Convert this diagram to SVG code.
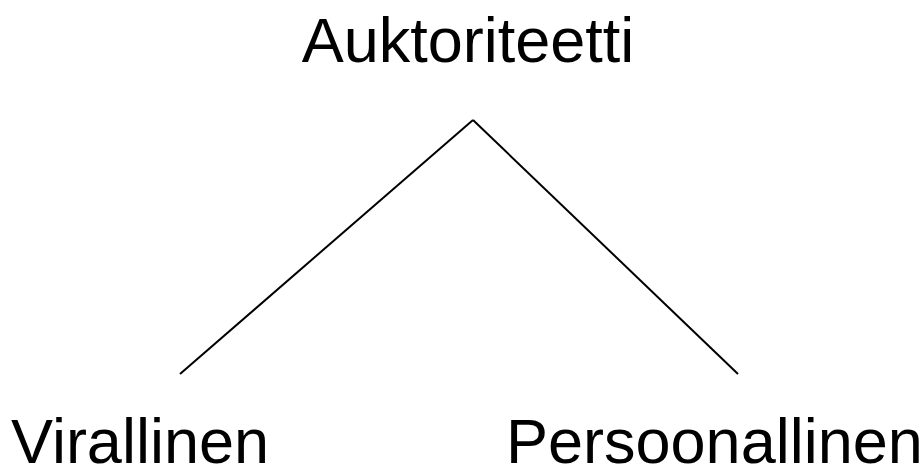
<svg xmlns="http://www.w3.org/2000/svg" width="920" height="466" viewBox="0 0 920 466">
<style>
.lbl{font-family:"Liberation Sans",Arial,sans-serif;font-size:63px;fill:#000}
.edge{stroke:#000;stroke-width:2;fill:none}
</style>
<rect width="920" height="466" fill="#fff"/>
<g id="connectors">
<line class="edge" x1="473" y1="120" x2="180" y2="374"/>
<line class="edge" x1="473" y1="120" x2="738" y2="374"/>
</g>
<g id="node-auktoriteetti"><text class="lbl" x="468" y="62" text-anchor="middle">Auktoriteetti</text></g>
<g id="node-virallinen"><text class="lbl" x="11" y="463">Virallinen</text></g>
<g id="node-persoonallinen"><text class="lbl" x="506" y="463">Persoonallinen</text></g>
</svg>
